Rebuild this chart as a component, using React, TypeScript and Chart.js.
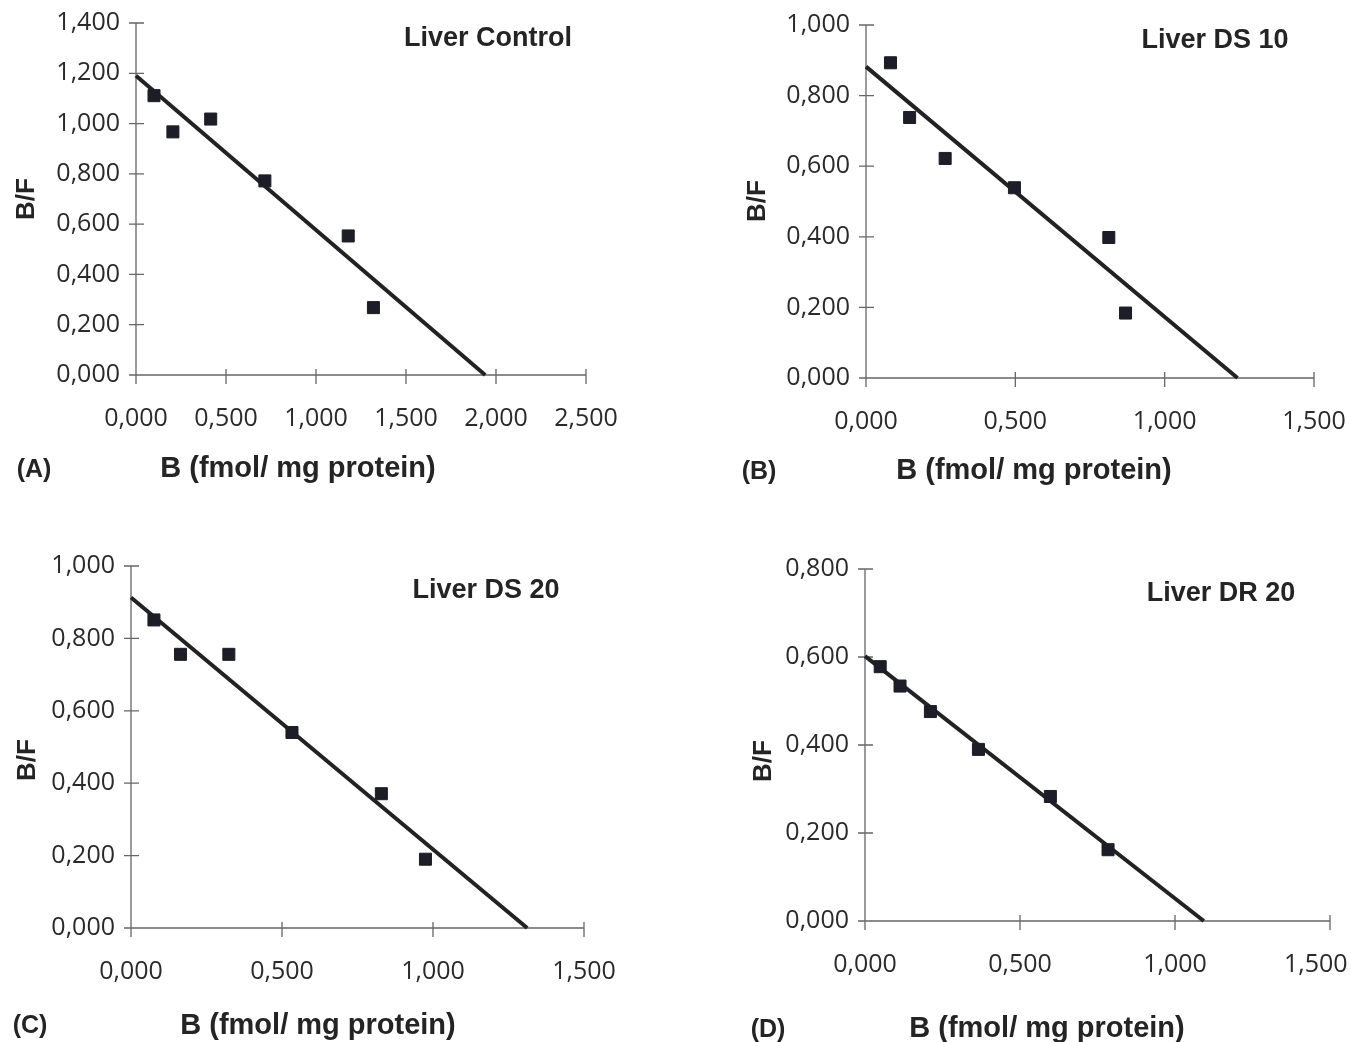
import React, { useEffect, useRef } from "react";
import { Chart, registerables } from "chart.js";

Chart.register(...registerables);

// ---- Text ----
const panelLabels = ["(A)", "(B)", "(C)", "(D)"];
const panelTitles = ["Liver Control", "Liver DS 10", "Liver DS 20", "Liver DR 20"];
const xAxisTitle = "B (fmol/ mg protein)";
const yAxisTitle = "B/F";

// ---- Axis ranges ----
const xMaxes = [2.5, 1.5, 1.5, 1.5];
const yMaxes = [1.4, 1.0, 1.0, 0.8];
const xStep = 0.5;
const yStep = 0.2;

// ---- Data: (A) Liver Control ----
const controlB = [0.1, 0.205, 0.415, 0.716, 1.179, 1.319];
const controlBF = [1.111, 0.967, 1.018, 0.772, 0.553, 0.268];
const controlFitB = [0, 1.94];
const controlFitBF = [1.19, 0];

// ---- Data: (B) Liver DS 10 ----
const ds10B = [0.082, 0.146, 0.265, 0.497, 0.813, 0.869];
const ds10BF = [0.893, 0.738, 0.622, 0.539, 0.398, 0.184];
const ds10FitB = [0, 1.244];
const ds10FitBF = [0.882, 0];

// ---- Data: (C) Liver DS 20 ----
const ds20B = [0.076, 0.164, 0.324, 0.533, 0.829, 0.975];
const ds20BF = [0.851, 0.756, 0.756, 0.54, 0.371, 0.19];
const ds20FitB = [0, 1.312];
const ds20FitBF = [0.913, 0];

// ---- Data: (D) Liver DR 20 ----
const dr20B = [0.049, 0.113, 0.211, 0.366, 0.598, 0.784];
const dr20BF = [0.578, 0.534, 0.476, 0.39, 0.283, 0.162];
const dr20FitB = [0, 1.093];
const dr20FitBF = [0.602, 0];

const pointsB = [controlB, ds10B, ds20B, dr20B];
const pointsBF = [controlBF, ds10BF, ds20BF, dr20BF];
const fitB = [controlFitB, ds10FitB, ds20FitB, dr20FitB];
const fitBF = [controlFitBF, ds10FitBF, ds20FitBF, dr20FitBF];

// ---- Layout (page pixels) ----
const layouts = [
  { left: 0, top: 0, w: 675, h: 521, area: { l: 136, r: 586, t: 23, b: 375 }, title: { x: 488, y: 38 }, label: { x: 34, y: 470 }, xt: { x: 298, y: 469 }, yt: { x: 27, y: 199 }, edgeShift: false },
  { left: 675, top: 0, w: 676, h: 521, area: { l: 866, r: 1314, t: 25, b: 378 }, title: { x: 1215, y: 40 }, label: { x: 759, y: 472 }, xt: { x: 1034, y: 471 }, yt: { x: 758, y: 201 }, edgeShift: false },
  { left: 0, top: 521, w: 675, h: 521, area: { l: 131, r: 584, t: 566, b: 928 }, title: { x: 486, y: 590 }, label: { x: 30, y: 1026 }, xt: { x: 318, y: 1026 }, yt: { x: 28, y: 760 }, edgeShift: false },
  { left: 675, top: 521, w: 710, h: 521, area: { l: 865, r: 1330, t: 569, b: 921 }, title: { x: 1221, y: 593 }, label: { x: 768, y: 1030 }, xt: { x: 1047, y: 1029 }, yt: { x: 764, y: 761 }, edgeShift: true },
];

const fmt = (v: number) => v.toFixed(3).replace(".", ",");
const TEXT = "#242424";
const BOLD = '"Liberation Sans", Arial, sans-serif';
const TICK_FONT = { family: '"Open Sans", sans-serif', size: 25 };

const decorPlugin = {
  id: "decor",
  beforeDatasetsDraw(chart: any) {
    const { ctx, chartArea } = chart;
    const xs = chart.scales.x;
    const ys = chart.scales.y;
    const x0 = xs.getPixelForValue(0);
    const y0 = ys.getPixelForValue(0);
    ctx.save();
    ctx.strokeStyle = "#666666";
    ctx.lineWidth = 1.3;
    ctx.beginPath();
    ctx.moveTo(x0, chartArea.top);
    ctx.lineTo(x0, chartArea.bottom);
    ctx.moveTo(chartArea.left, y0);
    ctx.lineTo(chartArea.right, y0);
    ys.ticks.forEach((t: any) => {
      const p = ys.getPixelForValue(t.value);
      ctx.moveTo(x0 - 7, p);
      ctx.lineTo(x0 + 8, p);
    });
    xs.ticks.forEach((t: any) => {
      const p = xs.getPixelForValue(t.value);
      ctx.moveTo(p, y0 - 6);
      ctx.lineTo(p, y0 + 9);
    });
    ctx.stroke();
    ctx.restore();
  },
  afterDraw(chart: any, _args: any, opts: any) {
    const { ctx } = chart;
    const L = opts.layout;
    const i = opts.index;
    ctx.save();
    ctx.fillStyle = TEXT;
    ctx.textAlign = "center";
    ctx.textBaseline = "middle";
    ctx.font = `bold 27px ${BOLD}`;
    ctx.fillText(panelTitles[i], L.title.x - L.left, L.title.y - L.top + 1);
    ctx.font = `bold 29px ${BOLD}`;
    ctx.fillText(xAxisTitle, L.xt.x - L.left, L.xt.y - L.top);
    ctx.font = `bold 25px ${BOLD}`;
    ctx.fillText(panelLabels[i], L.label.x - L.left, L.label.y - L.top);
    ctx.translate(L.yt.x - L.left, L.yt.y - L.top);
    ctx.rotate(-Math.PI / 2);
    ctx.font = `bold 26px ${BOLD}`;
    ctx.fillText(yAxisTitle, 0, 0);
    ctx.restore();
  },
};

function Panel({ index }: { index: number }) {
  const ref = useRef<HTMLCanvasElement | null>(null);
  const L = layouts[index];
  useEffect(() => {
    if (!ref.current) return;
    const pts = pointsB[index].map((b, k) => ({ x: b, y: pointsBF[index][k] }));
    const fit = fitB[index].map((b, k) => ({ x: b, y: fitBF[index][k] }));
    const yWidth = L.area.l - L.left;
    const xHeight = L.h - (L.area.b - L.top);
    const xMax = xMaxes[index];
    const chart = new Chart(ref.current, {
      type: "scatter",
      data: {
        datasets: [
          {
            data: pts,
            pointStyle: "rect",
            pointRadius: 8.5,
            pointBorderWidth: 1,
            backgroundColor: "#1d1d28",
            borderColor: "#1d1d28",
            showLine: false,
          } as any,
          {
            data: fit,
            showLine: true,
            pointRadius: 0,
            borderColor: "#222222",
            borderWidth: 4,
            clip: false,
            fill: false,
          } as any,
        ],
      },
      plugins: [decorPlugin as any],
      options: {
        animation: false,
        responsive: false,
        events: [],
        layout: {
          padding: {
            left: 0,
            top: L.area.t - L.top,
            right: L.w - (L.area.r - L.left),
            bottom: 0,
          },
        },
        plugins: {
          legend: { display: false },
          tooltip: { enabled: false },
          decor: { layout: L, index },
        } as any,
        scales: {
          x: {
            type: "linear",
            position: "bottom",
            min: 0,
            max: xMax,
            grid: { display: false, drawTicks: false },
            border: { display: false },
            ticks: {
              stepSize: xStep,
              autoSkip: false,
              maxRotation: 0,
              minRotation: 0,
              padding: 29,
              color: "#2a2a2a",
              font: TICK_FONT,
              callback: (v: any) => {
                const n = Number(v);
                const s = fmt(n);
                // keep the last label inside the page edge, as in the original
                return L.edgeShift && Math.abs(n - xMax) < 1e-9 ? s + "\u2007\u2007" : s;
              },
            },
            afterFit: (s: any) => {
              s.height = xHeight;
              s.paddingLeft = 0;
              s.paddingRight = 0;
            },
          },
          y: {
            type: "linear",
            position: "left",
            min: 0,
            max: yMaxes[index],
            grid: { display: false, drawTicks: false },
            border: { display: false },
            ticks: {
              stepSize: yStep,
              autoSkip: false,
              padding: 16,
              color: "#2a2a2a",
              font: TICK_FONT,
              callback: (v: any) => fmt(Number(v)),
            },
            afterFit: (s: any) => {
              s.width = yWidth;
              s.paddingTop = 0;
              s.paddingBottom = 0;
            },
          },
        },
      } as any,
    });
    return () => chart.destroy();
  }, [index]);
  return (
    <canvas
      ref={ref}
      width={L.w}
      height={L.h}
      style={{ position: "absolute", left: L.left, top: L.top, width: L.w, height: L.h }}
    />
  );
}

export default function App() {
  return (
    <div
      style={{
        position: "absolute",
        left: 0,
        top: 0,
        width: 1351,
        height: 1042,
        overflow: "hidden",
        background: "#ffffff",
      }}
    >
      {[0, 1, 2, 3].map((i) => (
        <Panel key={i} index={i} />
      ))}
    </div>
  );
}
